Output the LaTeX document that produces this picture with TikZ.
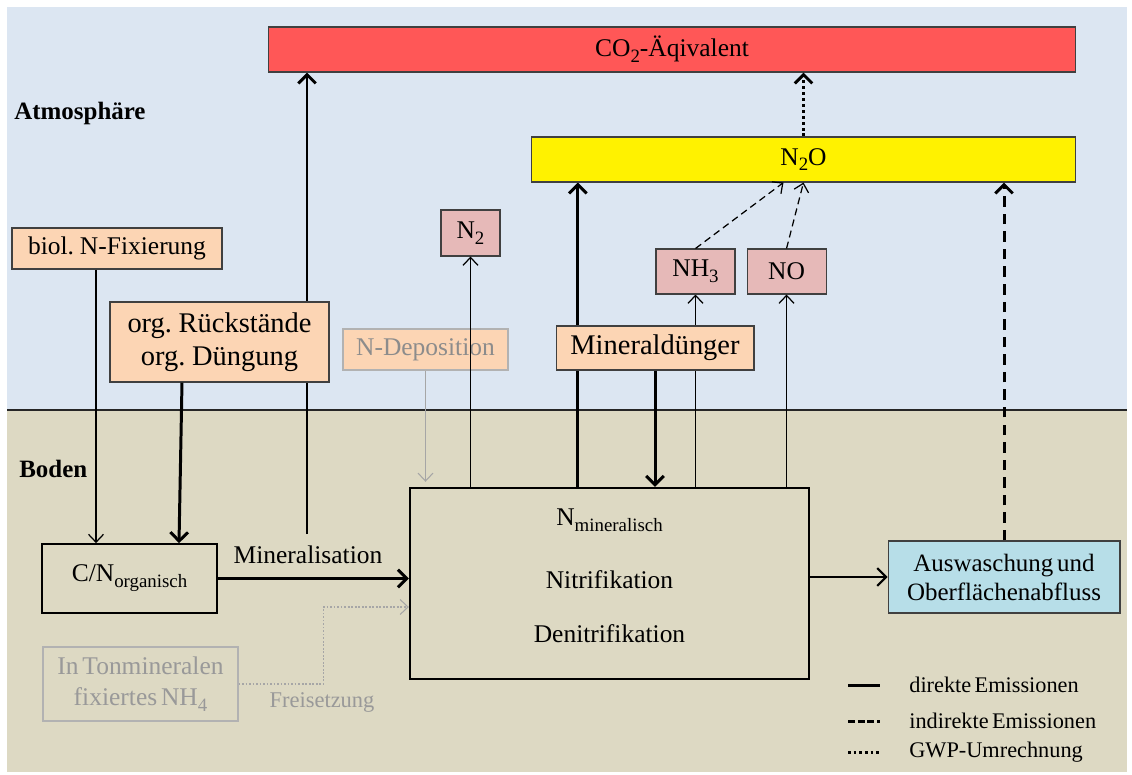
\documentclass[tikz,border=0pt]{standalone}
\usepackage{fontspec}
\setmainfont{Liberation Serif}[WordSpace=0.6]
\usepackage{tikz}
\usetikzlibrary{positioning}
\usetikzlibrary{arrows.meta}
\usetikzlibrary{calc}

\definecolor{luft}{RGB}{220,230,242}
\definecolor{erde}{RGB}{221,217,195}
\definecolor{co2rot}{RGB}{255,87,87}
\definecolor{lachs}{RGB}{252,213,180}
\definecolor{rosa}{RGB}{230,185,184}
\definecolor{hellblau}{RGB}{183,222,232}

\newcommand{\tief}[1]{\raisebox{-0.5ex}{\scalebox{0.74}{#1}}}

\pgfdeclarelayer{grund}
\pgfdeclarelayer{hinten}
\pgfsetlayers{grund,hinten,main}

\begin{document}
\begin{tikzpicture}[x=0.02cm,y=-0.02cm]
\tikzset{kasten/.style={rectangle,draw=black!75,line width=0.6pt,inner sep=0pt,align=center,font=\fontsize{14.5}{18}\selectfont}}
\tikzset{gross/.style={font=\fontsize{16.2}{18.5}\selectfont}}
\tikzset{duenn/.style={line width=0.7pt,-{Straight Barb[length=4.5pt,width=8.5pt]}}}
\tikzset{dick/.style={line width=1.7pt,-{Straight Barb[length=5pt,width=10pt]}}}
\tikzset{graupfeil/.style={line width=0.6pt,black!35,-{Straight Barb[length=4.5pt,width=8.5pt]}}}
\tikzset{legtext/.style={anchor=west,inner sep=0pt,font=\fontsize{12.7}{15}\selectfont}}
\tikzset{bereich/.style={anchor=west,inner sep=0pt,font=\bfseries\fontsize{14.2}{16}\selectfont}}
\useasboundingbox (0,0) rectangle (1132,774);

% Atmosphaere und Boden
\begin{pgfonlayer}{grund}
\fill[white] (0,0) rectangle (1132,774);
\fill[luft] (7,7) rectangle (1127,410);
\fill[erde] (7,410) rectangle (1127,772);
\draw[line width=0.9pt,black!85] (7,410) -- (1127,410);
\end{pgfonlayer}
\node[bereich] (atm) at (14,113) {Atmosphäre};
\node[bereich] (bod) at (19,469) {Boden};

% Kaesten
\node[kasten,fill=co2rot,minimum width=16.16cm,minimum height=0.9cm] (co2) at (672,49.5) {CO\tief{2}-Äqivalent};
\node[kasten,fill=yellow,minimum width=10.9cm,minimum height=0.9cm] (n2o) at (803.5,159.5) {N\tief{2}O};
\node[kasten,fill=lachs,minimum width=4.2cm,minimum height=0.82cm] (fix) at (117,248.5) {biol. N-Fixierung};
\node[kasten,gross,fill=lachs,minimum width=4.38cm,minimum height=1.6cm] (org) at (219.5,342) {org. Rückstände\\org. Düngung};
\node[kasten,fill=lachs,draw=black!30,text=black!45,minimum width=3.3cm,minimum height=0.82cm] (dep) at (425.5,349.5) {N-Deposition};
\node[kasten,fill=rosa,minimum width=1.18cm,minimum height=0.92cm] (n2) at (470.5,233) {N\tief{2}};
\node[kasten,fill=rosa,minimum width=1.58cm,minimum height=0.9cm] (nh3) at (695.5,271.5) {NH\tief{3}};
\node[kasten,fill=rosa,minimum width=1.58cm,minimum height=0.9cm,right=0.22cm of nh3] (no) {NO};
\node[kasten,gross,fill=lachs,minimum width=3.96cm,minimum height=0.88cm] (mdg) at (655,348) {Mineraldünger};
\node[kasten,draw=black,line width=1pt,minimum width=3.5cm,minimum height=1.38cm] (cn) at (129.5,578.5) {C/N\tief{organisch}};
\node[kasten,draw=black,line width=1.4pt,minimum width=7.98cm,minimum height=3.82cm] (nmin) at (609.5,583.5) {};
\node[font=\fontsize{14.5}{18}\selectfont] (nmint) at (609.5,520) {N\tief{mineralisch}};
\node[font=\fontsize{14.5}{18}\selectfont] (nitr) at (609.5,580) {Nitrifikation};
\node[font=\fontsize{14.5}{18}\selectfont] (denitr) at (609.5,634) {Denitrifikation};
\node[kasten,fill=hellblau,minimum width=4.64cm,minimum height=1.44cm,font=\fontsize{14.2}{16.5}\selectfont] (ausw) at (1004,577) {Auswaschung und\\Oberflächenabfluss};
\node[kasten,draw=black!30,text=black!40,minimum width=3.9cm,minimum height=1.48cm] (ton) at (140.5,684) {In Tonmineralen\\fixiertes NH\tief{4}};
\node[font=\fontsize{14.5}{18}\selectfont] (minlab) at (308,555) {Mineralisation};
\node[text=black!40,font=\fontsize{12.8}{15}\selectfont] (frei) at (322,702) {Freisetzung};

% Abzweige
\coordinate (minab) at (307,534);
\coordinate (fixab) at ($(fix.south)+(-21,0)$);
\coordinate (direkt) at ($(nmin.north west)+(169,0)$);

% Pfeile
\begin{pgfonlayer}{hinten}
\draw[dick] (minab) -- (minab |- co2.south);
\draw[dick] (direkt) -- (direkt |- n2o.south);
\draw[duenn] (nh3.south |- nmin.north) -- (nh3.south);
\end{pgfonlayer}
\draw[duenn] (fixab) -- (fixab |- cn.north);
\draw[dick] ($(org.south)+(-37.5,0)$) -- ($(cn.north)+(49.5,0)$);
\draw[dick] (cn.east) -- (nmin.west |- cn.east);
\draw[graupfeil] (dep.south) -- ($(dep.south |- nmin.north)+(0,-5)$);
\draw[duenn] (n2.south |- nmin.north) -- (n2.south);
\draw[dick] (mdg.south) -- (mdg.south |- nmin.north);
\draw[duenn] (no.south |- nmin.north) -- (no.south);
\draw[duenn,dash pattern=on 4pt off 2.5pt] (nh3.north) -- ($(n2o.south)+(-20,0)$);
\draw[duenn,dash pattern=on 4pt off 2.5pt] (no.north) -- (n2o.south);
\draw[dick,dash pattern=on 1.7pt off 1.7pt] (n2o.north) -- (n2o.north |- co2.south);
\draw[dick,dash pattern=on 6pt off 4pt] (ausw.north) -- (ausw.north |- n2o.south);
\draw[line width=1.2pt,-{Straight Barb[length=5pt,width=10pt]}] (nmin.east |- ausw.west) -- (ausw.west);
\draw[graupfeil,dash pattern=on 1pt off 1pt] (ton.east) -- ++(85,0) |- ($(nmin.west)+(0,23.5)$);

% Legende
\node[legtext] (leg1) at (909,685) {direkte Emissionen};
\node[legtext] (leg2) at (909,721) {indirekte Emissionen};
\node[legtext] (leg3) at (909,752) {GWP-Umrechnung};
\draw[line width=1.7pt] ($(leg1.west)+(-61,0)$) -- ++(32,0);
\draw[line width=1.7pt,dash pattern=on 4pt off 1.5pt] ($(leg2.west)+(-61,0)$) -- ++(32,0);
\draw[line width=1.7pt,dash pattern=on 1.6pt off 1.6pt] ($(leg3.west)+(-61,0)$) -- ++(32,0);
\end{tikzpicture}
\end{document}
